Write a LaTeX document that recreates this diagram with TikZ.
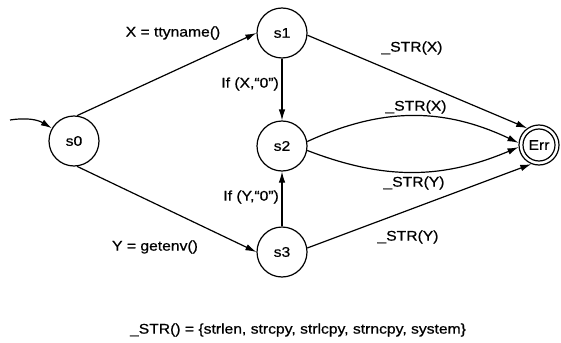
\documentclass[tikz,border=0pt]{standalone}
\usepackage{fontspec}
\setmainfont{Liberation Sans}[FakeStretch=1.12, FakeBold=0.6]
\usetikzlibrary{arrows.meta}
\begin{document}
\begin{tikzpicture}[x=1pt,y=-1pt,
  every node/.style={font=\fontsize{14}{16}\selectfont},
  state/.style={circle, draw, line width=1.2pt, minimum size=50pt, inner sep=0pt},
  accept/.style={circle, draw, line width=1.2pt, minimum size=40pt, inner sep=0pt},
  arr/.style={line width=1.2pt, -{Latex[length=11pt,width=6.5pt]}},
  lbl/.style={inner sep=1pt}]
\useasboundingbox (0,0) rectangle (561,342);
\node[state] (s0) at (74,141) {s0};
\node[state] (s1) at (282,33) {s1};
\node[state] (s2) at (282,146) {s2};
\node[state] (s3) at (282,252) {s3};
\node[accept] (Err) at (539,145) {Err};
\draw[line width=1.2pt] (Err.center) circle (16);
\coordinate (in) at (10,120);
\draw[arr] (in) to[bend left=20] (s0.150);
\draw[arr] (s0.83) -- (s1.180);
\draw[arr] (s0.-83) -- (s3.180);
\draw[arr] (s1.south) -- (s2.north);
\draw[arr] (s3.north) -- (s2.south);
\draw[arr] (s1.-5) -- (Err.125);
\draw[arr] (s2.10) to[bend left=25] (Err.174);
\draw[arr] (s2.-10) to[bend right=22] (Err.186);
\draw[arr] (s3.9) -- (Err.-112);
\node[lbl] (lx) at (173,33) {X = ttyname()};
\node[lbl] (ly) at (155,247) {Y = getenv()};
\node[lbl, anchor=east] (ifx) at (280,84) {If (X,“0”)};
\node[lbl, anchor=east] (ify) at (280,197) {If (Y,“0”)};
\node[lbl] (l1) at (412,48) {\_STR(X)};
\node[lbl] (l2) at (416,107) {\_STR(X)};
\node[lbl] (l3) at (414,183) {\_STR(Y)};
\node[lbl] (l4) at (408,237) {\_STR(Y)};
\node[lbl] (def) at (298,330) {\_STR() = \{strlen, strcpy, strlcpy, strncpy, system\}};
\end{tikzpicture}
\end{document}
